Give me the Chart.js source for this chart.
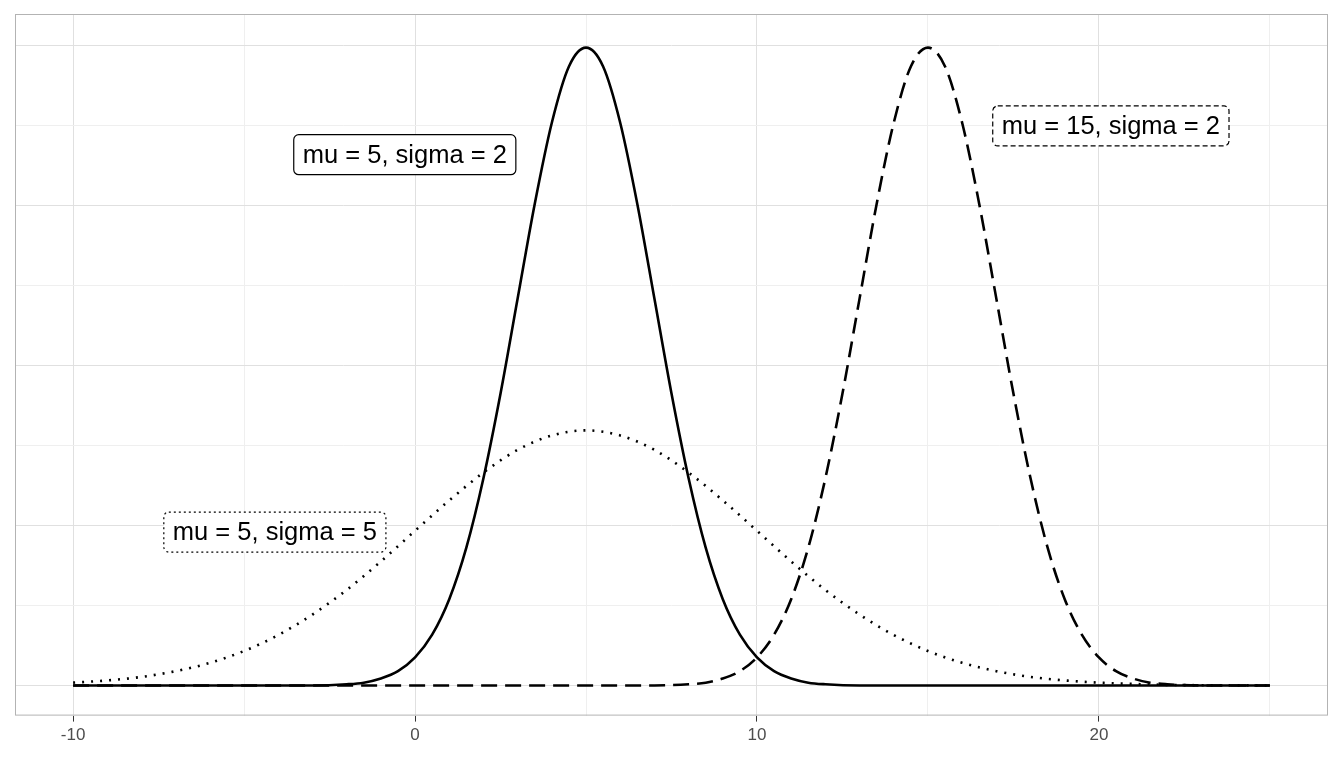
<!DOCTYPE html>
<html><head><meta charset="utf-8">
<script src="https://cdn.jsdelivr.net/npm/chart.js@4/dist/chart.umd.min.js"></script>
<style>body{margin:0;background:#fff}</style></head>
<body><canvas id="c" width="1344" height="768"></canvas>
<script>
// values
const xA = [-10,-3,-2,-1.5,-1,-0.5,0,0.5,1,1.5,2,2.5,3,3.5,4,4.5,5,5.5,6,6.5,7,7.5,8,8.5,9,9.5,10,10.5,11,11.5,12,13,25];
const yA = [0,0.00003,0.0004,0.0009,0.0022,0.0045,0.0088,0.0159,0.027,0.0431,0.0648,0.0913,0.121,0.1506,0.176,0.1936,0.1995,0.1936,0.176,0.1506,0.121,0.0913,0.0648,0.0431,0.027,0.0159,0.0088,0.0045,0.0022,0.0009,0.0004,0.00003,0];
const xB = [-10,-9,-8,-7,-6,-5,-4,-3,-2,-1,0,1,2,3,4,5,6,7,8,9,10,11,12,13,14,15,16,17,18,19,20,21,22,23,24,25];
const yB = [0.0009,0.0016,0.0027,0.0045,0.0071,0.0108,0.0158,0.0222,0.0299,0.0388,0.0484,0.0579,0.0666,0.0737,0.0782,0.0798,0.0782,0.0737,0.0666,0.0579,0.0484,0.0388,0.0299,0.0222,0.0158,0.0108,0.0071,0.0045,0.0027,0.0016,0.0009,0.0005,0.0002,0.0001,0.00005,0.00003];
const xC = [-10,7,8,8.5,9,9.5,10,10.5,11,11.5,12,12.5,13,13.5,14,14.5,15,15.5,16,16.5,17,17.5,18,18.5,19,19.5,20,20.5,21,21.5,22,23,25];
const yC = [0,0.00003,0.0004,0.0009,0.0022,0.0045,0.0088,0.0159,0.027,0.0431,0.0648,0.0913,0.121,0.1506,0.176,0.1936,0.1995,0.1936,0.176,0.1506,0.121,0.0913,0.0648,0.0431,0.027,0.0159,0.0088,0.0045,0.0022,0.0009,0.0004,0.00003,0];
const labels = ["mu = 5, sigma = 2","mu = 15, sigma = 2","mu = 5, sigma = 5"];
const labelX = [-0.3,20.35,-4.1];
const labelY = [0.166,0.175,0.048];
const labelDash = [[],[5,3],[2,3]];

const pts=(xs,ys)=>xs.map((x,i)=>({x,y:ys[i]}));
const base={fill:false,borderColor:'#000',borderWidth:2.6,pointRadius:0,cubicInterpolationMode:'monotone'};
const labelPlugin={id:'lab',afterDatasetsDraw(ch){
 const {ctx,scales:{x,y},chartArea:a}=ch;
 ctx.save();
 ctx.strokeStyle='#b3b3b3';ctx.lineWidth=1;ctx.strokeRect(a.left+0.5,a.top+0.5,a.width-1,a.height-1);
 ctx.font='25.5px "Liberation Sans", Arial, sans-serif';ctx.textAlign='center';ctx.textBaseline='middle';
 labels.forEach((t,i)=>{
  const px=x.getPixelForValue(labelX[i]),py=y.getPixelForValue(labelY[i]);
  const w=ctx.measureText(t).width+18,h=40;
  ctx.fillStyle='#fff';ctx.strokeStyle='#000';ctx.lineWidth=1.2;ctx.setLineDash(labelDash[i]);
  ctx.beginPath();ctx.roundRect(px-w/2,py-h/2,w,h,5);ctx.fill();ctx.stroke();
  ctx.setLineDash([]);ctx.fillStyle='#000';ctx.fillText(t,px,py+1);
 });
 ctx.restore();}};
new Chart(document.getElementById('c'),{type:'line',
 data:{datasets:[
  {...base,data:pts(xB,yB),borderDash:[2,7],borderWidth:2.6},
  {...base,data:pts(xC,yC),borderDash:[16,8]},
  {...base,data:pts(xA,yA)}]},
 options:{responsive:false,animation:false,
  layout:{padding:{left:15,top:14,right:16,bottom:18}},
  plugins:{legend:{display:false},tooltip:{enabled:false}},
  scales:{
   x:{type:'linear',min:-11.7,max:26.7,afterBuildTicks:s=>{s.ticks=[-10,-5,0,5,10,15,20,25].map(v=>({value:v}));},
      ticks:{autoSkip:false,maxRotation:0,color:'#4d4d4d',padding:4,font:{size:17,family:'Liberation Sans'},callback:v=>v%10===0?String(v):''},
      grid:{color:c=>c.tick&&c.tick.value%10===0?'#e0e0e0':'#efefef',tickLength:6,tickColor:c=>c.tick&&c.tick.value%10===0?'#333':'rgba(0,0,0,0)'},border:{display:false}},
   y:{min:-0.0094,max:0.21,afterBuildTicks:s=>{s.ticks=[0,0.025,0.05,0.075,0.1,0.125,0.15,0.175,0.2].map(v=>({value:v}));},
      ticks:{display:false},grid:{color:c=>c.index%2===0?'#e0e0e0':'#efefef',drawTicks:false},border:{display:false}}
  }},plugins:[labelPlugin]});
</script></body></html>
